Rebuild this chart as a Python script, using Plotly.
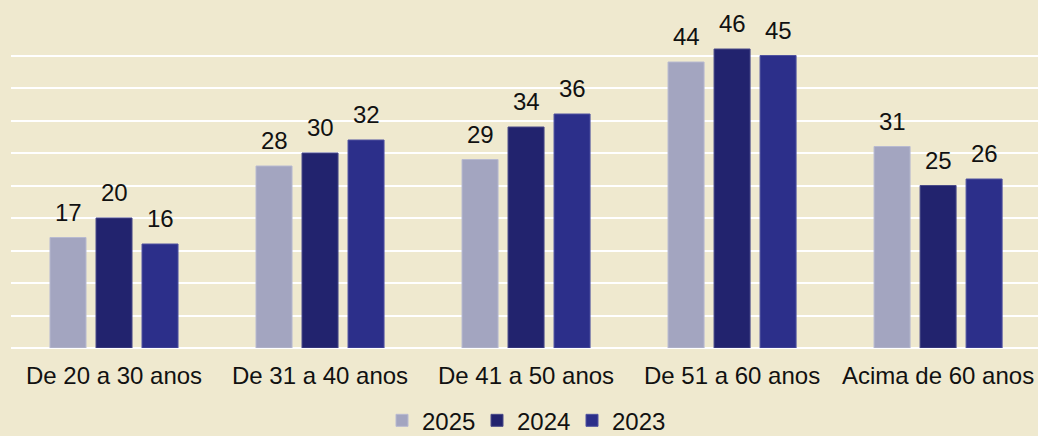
import plotly.graph_objects as go

# ── dados ──────────────────────────────────────────────────────────────
faixas = ['De 20 a 30 anos', 'De 31 a 40 anos', 'De 41 a 50 anos',
          'De 51 a 60 anos', 'Acima de 60 anos']
anos = ['2025', '2024', '2023']
v2025 = [17, 28, 29, 44, 31]
v2024 = [20, 30, 34, 46, 25]
v2023 = [16, 32, 36, 45, 26]

cores = {'2025': '#A3A5C0', '2024': '#22236E', '2023': '#2C2F8A'}
bordas = {'2025': '#B8BAD0', '2024': '#4A4B88', '2023': '#5053A0'}
fundo = '#EFE9CF'
fonte = 'Liberation Sans, Arial, sans-serif'

series = {'2025': v2025, '2024': v2024, '2023': v2023}

fig = go.Figure()
for ano in anos:
    fig.add_trace(go.Bar(
        x=faixas, y=series[ano], name=ano,
        marker=dict(color=cores[ano], line=dict(color=bordas[ano], width=1)),
    ))

# rótulos de dados acima das barras
desloc = {'2025': -46, '2024': 0, '2023': 46}
anots = []
for ano in anos:
    for cat, val in zip(faixas, series[ano]):
        anots.append(dict(
            x=cat, y=val, xref='x', yref='y', text=str(val),
            showarrow=False, xshift=desloc[ano], yshift=10,
            yanchor='bottom', font=dict(size=24, color='#111111', family=fonte),
        ))

fig.update_layout(
    width=1038, height=436,
    paper_bgcolor=fundo, plot_bgcolor=fundo,
    margin=dict(t=23, b=88, l=11, r=0),
    barmode='group', bargap=0.33, bargroupgap=0.217,
    font=dict(family=fonte, size=24, color='#111111'),
    showlegend=True,
    legend=dict(orientation='h', x=0.5, xanchor='center',
                yref='container', y=0.035, yanchor='middle',
                font=dict(size=24), itemwidth=30, entrywidth=50, traceorder='normal'),
    annotations=anots,
)
# a área do gráfico no original passa um pouco da borda direita
fig.update_xaxes(range=[-0.5, 4.485], showgrid=False, showline=False, ticks='outside', ticklen=6,
                 tickcolor='rgba(0,0,0,0)', tickfont=dict(size=24), automargin=False)
fig.update_yaxes(range=[0, 50], dtick=5, showgrid=True, gridcolor='white', gridwidth=2,
                 zeroline=True, zerolinecolor='white', zerolinewidth=2,
                 showticklabels=False, automargin=False)

fig.write_html('out.html', config={'displayModeBar': False},
               post_script="document.body.style.margin='0';")
